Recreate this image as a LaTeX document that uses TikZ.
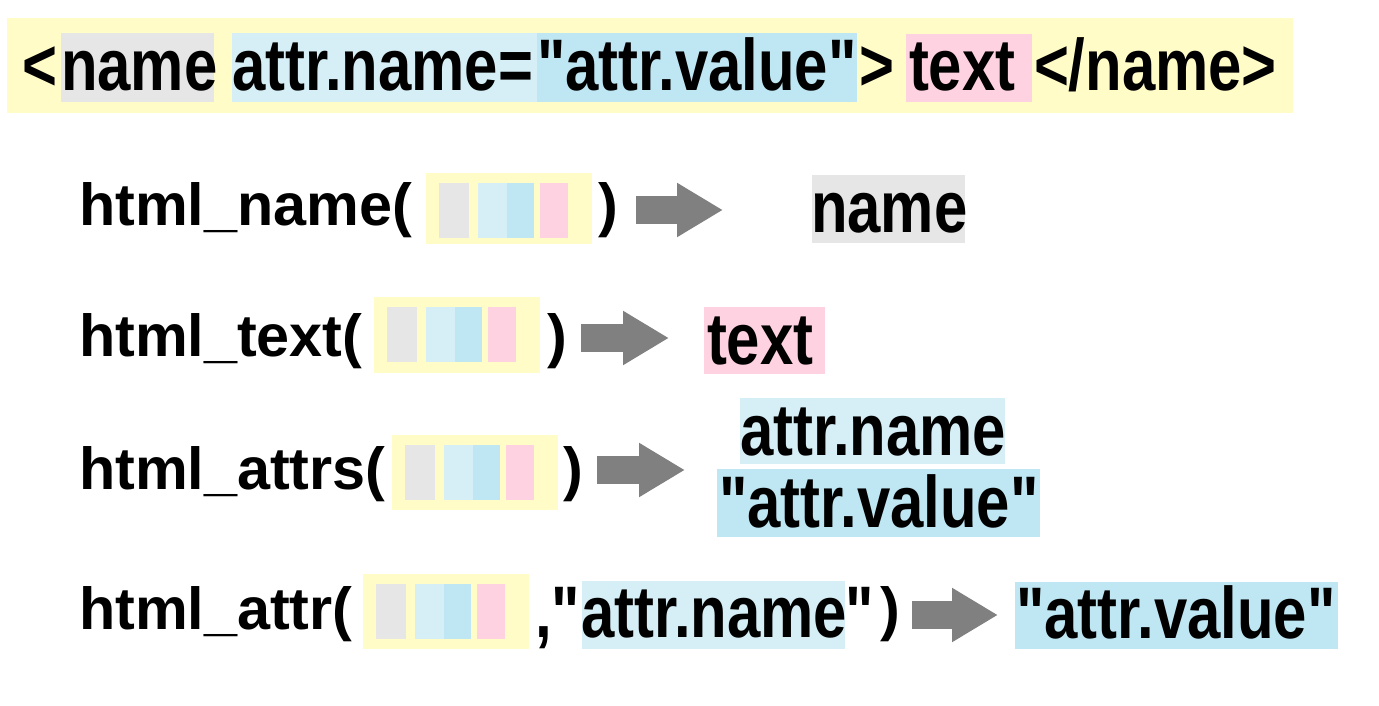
\documentclass[tikz,border=0pt]{standalone}
\usepackage{fontspec}
\setmainfont{Liberation Sans}
\newfontfamily\bigf{Liberation Sans}[FakeStretch=0.82]
\usetikzlibrary{arrows.meta}
\definecolor{cyel}{HTML}{FFFCC8}
\definecolor{cgry}{HTML}{E6E6E6}
\definecolor{clb}{HTML}{D6EFF7}
\definecolor{cmb}{HTML}{BEE6F3}
\definecolor{cpk}{HTML}{FFD2E1}
\definecolor{carr}{HTML}{808080}
\tikzset{
  big/.style={anchor=base west, inner sep=0pt, outer sep=0pt,
    font=\bigf\bfseries\fontsize{54.75pt}{60pt}\selectfont},
  fn/.style={anchor=base west, inner sep=0pt, outer sep=0pt,
    font=\bfseries\fontsize{44.5pt}{50pt}\selectfont},
  blockarrow/.style={draw=carr, line width=21pt,
    -{Triangle[length=34.5pt,width=38.25pt]}},
}
\newcommand\bargroup[3]{%
  \fill[cyel] (#1,#2) rectangle ++(166,#3);
  \fill[cgry] (#1+13,#2+10) rectangle (#1+43,#2+65);
  \fill[clb]  (#1+52,#2+10) rectangle (#1+81,#2+65);
  \fill[cmb]  (#1+81,#2+10) rectangle (#1+108,#2+65);
  \fill[cpk]  (#1+114,#2+10) rectangle (#1+142,#2+65);
}
\begin{document}
\begin{tikzpicture}[x=0.75pt,y=-0.75pt]
\useasboundingbox (0,0) rectangle (1379,706);
\fill[white] (0,0) rectangle (1379,706);

% banner
\fill[cyel] (7,18) rectangle (1293,113);
\fill[cgry] (61,33) rectangle (214,102);
\fill[clb] (232,33) rectangle (537,102);
\fill[cmb] (537,33) rectangle (857,102);
\fill[cpk] (906,34) rectangle (1032,102);
\node[big] (b1) at (22,91) {<};
\node[big] (b2) at (61,91) {name};
\node[big] (b3) at (232,91) {attr.name=};
\node[big] (b4) at (537,91) {"attr.value"};
\node[big] (b5) at (859,91) {>};
\node[big] (b6) at (909,91) {text};
\node[big] (b7) at (1034,91) {</name>};

% row 1
\node[fn] (f1) at (79,226) {html\_name(};
\bargroup{426}{173}{71}
\node[fn] (p1) at (598,226) {)};
\coordinate (a1s) at (636,210);
\coordinate (a1e) at (723,210);
\draw[blockarrow] (a1s) -- (a1e);
\fill[cgry] (812,175) rectangle (965,243);
\node[big] (r1) at (811,233) {name};

% row 2
\node[fn] (f2) at (79,356) {html\_text(};
\bargroup{374}{297}{76}
\node[fn] (p2) at (547,356) {)};
\coordinate (a2s) at (581,338);
\coordinate (a2e) at (669,338);
\draw[blockarrow] (a2s) -- (a2e);
\fill[cpk] (704,307) rectangle (825,374);
\node[big] (r2) at (707,364) {text};

% row 3
\node[fn] (f3) at (79,489) {html\_attrs(};
\bargroup{392}{435}{75}
\node[fn] (p3) at (563,489) {)};
\coordinate (a3s) at (597,470);
\coordinate (a3e) at (685,470);
\draw[blockarrow] (a3s) -- (a3e);
\fill[clb] (740,398) rectangle (1005,464);
\fill[cmb] (717,469) rectangle (1040,537);
\node[big] (r3a) at (740,455) {attr.name};
\node[big] (r3b) at (719,527) {"attr.value"};

% row 4
\node[fn] (f4) at (79,629) {html\_attr(};
\bargroup{363}{574}{75}
\fill[clb] (582,581) rectangle (845,649);
\node[big] (q1) at (535,637) {,"};
\node[big] (q2) at (581,637) {attr.name};
\node[big] (q3) at (845,637) {"};
\node[fn] (p4) at (880,629) {)};
\coordinate (a4s) at (912,615);
\coordinate (a4e) at (998,615);
\draw[blockarrow] (a4s) -- (a4e);
\fill[cmb] (1015,582) rectangle (1338,649);
\node[big] (r4) at (1016,638) {"attr.value"};
\end{tikzpicture}
\end{document}
